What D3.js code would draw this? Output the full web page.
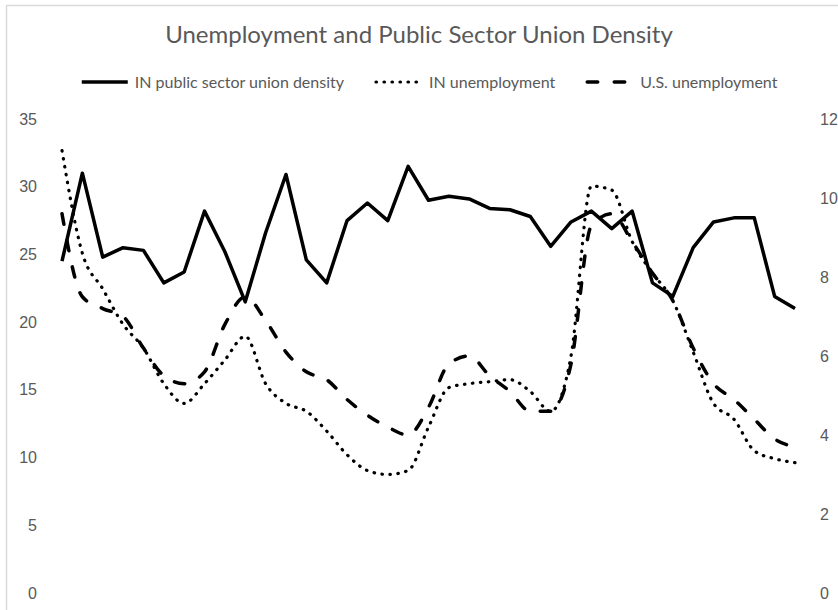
<!DOCTYPE html>
<html>
<head>
<meta charset="utf-8">
<script src="https://cdn.jsdelivr.net/npm/d3@7"></script>
<style>
    body { margin: 0; background: #fff; }
    svg { display: block; font-family: Lato, "Open Sans", sans-serif; }
    .tick text { fill: #595959; font-size: 16px; }
</style>
</head>
<body>
<svg id="chart" width="838" height="610"></svg>
<script>
// years 1983-2019 (not shown on the chart)
const years = [1983, 1984, 1985, 1986, 1987, 1988, 1989, 1990, 1991, 1992,
    1993, 1994, 1995, 1996, 1997, 1998, 1999, 2000, 2001, 2002,
    2003, 2004, 2005, 2006, 2007, 2008, 2009, 2010, 2011, 2012,
    2013, 2014, 2015, 2016, 2017, 2018, 2019];

// left axis (%)
const unionDensity = [24.5, 31.0, 24.8, 25.5, 25.3, 22.9, 23.7, 28.2, 25.2, 21.5,
    26.6, 30.9, 24.6, 22.9, 27.5, 28.8, 27.5, 31.5, 29.0, 29.3,
    29.1, 28.4, 28.3, 27.8, 25.6, 27.4, 28.2, 26.9, 28.2, 22.9,
    21.9, 25.5, 27.4, 27.7, 27.7, 21.9, 21.0];

// right axis (%)
const inUnemployment = [11.2, 8.6, 7.7, 6.8, 6.2, 5.3, 4.8, 5.3, 5.9, 6.5,
    5.3, 4.8, 4.6, 4.1, 3.5, 3.1, 3.0, 3.1, 4.2, 5.2,
    5.3, 5.35, 5.4, 5.1, 4.6, 6.0, 10.3, 10.2, 8.9, 8.1,
    7.4, 6.1, 4.8, 4.4, 3.6, 3.4, 3.3];

const usUnemployment = [9.6, 7.5, 7.2, 7.0, 6.2, 5.5, 5.3, 5.6, 6.8, 7.5,
    6.9, 6.1, 5.6, 5.4, 4.9, 4.5, 4.2, 4.0, 4.7, 5.8,
    6.0, 5.5, 5.1, 4.6, 4.6, 5.8, 9.3, 9.6, 8.9, 8.1,
    7.4, 6.2, 5.3, 4.9, 4.4, 3.9, 3.7];

const leftTicks = [0, 5, 10, 15, 20, 25, 30, 35];
const rightTicks = [0, 2, 4, 6, 8, 10, 12];

const svg = d3.select('#chart');

// light chart border (only top/left show in the crop)
svg.append('rect')
    .attr('x', 6.5).attr('y', 5.5)
    .attr('width', 900).attr('height', 700)
    .attr('fill', 'none')
    .attr('stroke', '#d9d9d9')
    .attr('stroke-width', 1.5);

svg.append('text')
    .attr('x', 419).attr('y', 43)
    .attr('text-anchor', 'middle')
    .attr('fill', '#595959')
    .style('font-size', '24px')
    .text('Unemployment and Public Sector Union Density');

const x = d3.scalePoint().domain(years).range([62, 795]);
const yLeft = d3.scaleLinear().domain([0, 35]).range([593, 119]);
const yRight = d3.scaleLinear().domain([0, 12]).range([593, 119]);

const leftAxis = svg.append('g')
    .attr('transform', 'translate(40,0)')
    .call(d3.axisLeft(yLeft).tickValues(leftTicks).tickSize(0).tickPadding(3));
const rightAxis = svg.append('g')
    .attr('transform', 'translate(818,0)')
    .call(d3.axisRight(yRight).tickValues(rightTicks).tickSize(0).tickPadding(2));
leftAxis.select('.domain').remove();
rightAxis.select('.domain').remove();

const series = [
    {name: 'IN public sector union density', values: unionDensity, y: yLeft,
        dash: null, cap: 'butt', width: 3.5, curve: d3.curveLinear},
    {name: 'IN unemployment', values: inUnemployment, y: yRight,
        dash: '0.5 7.5', cap: 'round', width: 3.2, curve: d3.curveMonotoneX},
    {name: 'U.S. unemployment', values: usUnemployment, y: yRight,
        dash: '10.5 16.5', cap: 'round', width: 3.5, curve: d3.curveMonotoneX}
];

series.forEach(s => {
    const line = d3.line()
        .x((d, i) => x(years[i]))
        .y(d => s.y(d))
        .curve(s.curve);

    svg.append('path')
        .datum(s.values)
        .attr('fill', 'none')
        .attr('stroke', '#000')
        .attr('stroke-width', s.width)
        .attr('stroke-linejoin', 'round')
        .attr('stroke-linecap', s.cap)
        .attr('stroke-dasharray', s.dash)
        .attr('d', line);
});

// legend: sample line, label, then a gap to the next entry
const sampleLen = 46, textGap = 7, itemGap = 32;
const legend = svg.append('g').attr('transform', 'translate(0,82)');
const items = series.map(s => {
    const g = legend.append('g');
    g.append('line')
        .attr('x1', 0).attr('x2', sampleLen)
        .attr('stroke', '#000')
        .attr('stroke-width', s.width)
        .attr('stroke-linecap', s.cap)
        .attr('stroke-dasharray', s.dash);
    const t = g.append('text')
        .attr('x', sampleLen + textGap)
        .attr('y', 5.5)
        .attr('fill', '#595959')
        .style('font-size', '16px')
        .text(s.name);
    return {g, w: sampleLen + textGap + t.node().getComputedTextLength()};
});
// second sample starts where the reference has its dotted sample
let lx = 376 - items[0].w - itemGap;
items.forEach(it => {
    it.g.attr('transform', `translate(${lx},0)`);
    lx += it.w + itemGap;
});
</script>
</body>
</html>
